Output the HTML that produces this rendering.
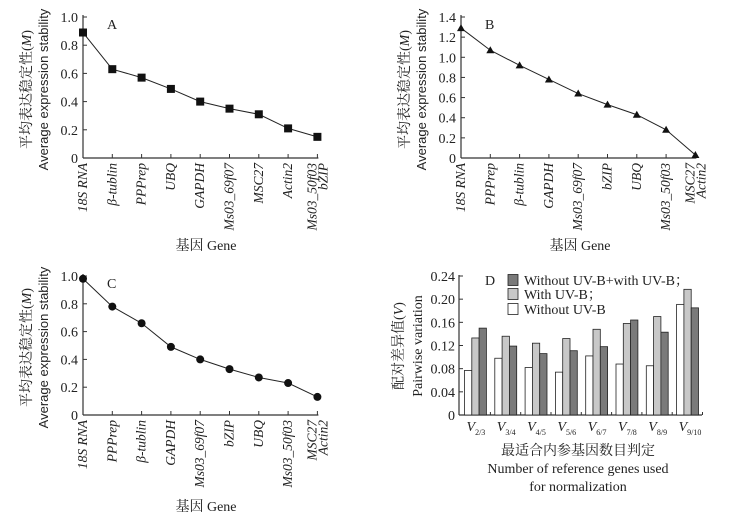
<!DOCTYPE html>
<html><head><meta charset="utf-8"><style>
body{margin:0;background:#fff;}
svg{display:block;font-family:"Liberation Serif","Noto Serif CJK SC",serif;}
</style></head><body>
<svg id="s" width="738" height="517" viewBox="0 0 738 517"></svg>
<script>
const NS="http://www.w3.org/2000/svg";
const svg=document.getElementById('s');
function mk(tag,attrs,parent,txt){const e=document.createElementNS(NS,tag);for(const k in attrs)e.setAttribute(k,attrs[k]);if(txt!==undefined)e.textContent=txt;(parent||svg).appendChild(e);return e;}

// ---- data ----
const genesA=["18S RNA","β-tublin","PPPrep","UBQ","GAPDH","Ms03_69f07","MSC27","Actin2","Ms03_50f03|bZIP"];
const valuesA=[0.89,0.63,0.57,0.49,0.40,0.35,0.31,0.21,0.15];
const ticksA=[0,0.2,0.4,0.6,0.8,1.0];
const genesB=["18S RNA","PPPrep","β-tublin","GAPDH","Ms03_69f07","bZIP","UBQ","Ms03_50f03","MSC27|Actin2"];
const valuesB=[1.29,1.07,0.92,0.78,0.64,0.53,0.43,0.28,0.03];
const ticksB=[0,0.2,0.4,0.6,0.8,1.0,1.2,1.4];
const genesC=["18S RNA","PPPrep","β-tublin","GAPDH","Ms03_69f07","bZIP","UBQ","Ms03_50f03","MSC27|Actin2"];
const valuesC=[0.98,0.78,0.66,0.49,0.40,0.33,0.27,0.23,0.13];
const ticksC=[0,0.2,0.4,0.6,0.8,1.0];
const catsD=["2/3","3/4","4/5","5/6","6/7","7/8","8/9","9/10"];
const withoutUV=[0.077,0.098,0.082,0.074,0.102,0.088,0.085,0.191];
const withUV=[0.133,0.136,0.124,0.132,0.148,0.158,0.170,0.217];
const combined=[0.150,0.119,0.106,0.111,0.118,0.164,0.143,0.185];
const ticksD=[0,0.04,0.08,0.12,0.16,0.20,0.24];
const ticksDLabels=["0","0.04","0.08","0.12","0.16","0.20","0.24"];

function yTitle(g,x1,x2,cy,zh,en){
  let t=mk('text',{x:0,y:0,transform:`translate(${x1},${cy}) rotate(-90)`,'text-anchor':'middle','font-size':14,fill:'#222',},g);
  t.innerHTML=zh;
  mk('text',{x:0,y:0,transform:`translate(${x2},${cy}) rotate(-90)`,'text-anchor':'middle','font-size':13,fill:'#222','font-family':'Liberation Sans, sans-serif',},g,en);
}

function lineChart(name,ax,y0,y1,ymax,genes,vals,ticks,marker,letter,titleY,titleX){
  const g=mk('g',{});
  const step=29.3;
  const xs=i=>ax+i*step;
  const ys=v=>y0-(v/ymax)*(y0-y1);
  const xend=xs(genes.length-1);
  mk('line',{x1:ax,y1:y0,x2:ax,y2:y1-2,stroke:'#333','stroke-width':1.2,},g);
  mk('line',{x1:ax,y1:y0,x2:xend+1,y2:y0,stroke:'#333','stroke-width':1.2,},g);
  ticks.forEach(t=>{
    const y=ys(t);
    const tk=mk('line',{x1:ax,y1:y,x2:ax+4,y2:y,stroke:'#333'},g);
    
    
    const lb=mk('text',{x:ax-5,y:y+5,'text-anchor':'end','font-size':14,fill:'#222'},g,t===0?'0':t.toFixed(1));
    
    
  });
  genes.forEach((gn,i)=>{
    const x=xs(i);
    if(i>0){const tk=mk('line',{x1:x,y1:y0,x2:x,y2:y0-4,stroke:'#333'},g);
      
      }
    const parts=gn.split('|');
    parts.forEach((p,j)=>{
      const lx=x+4+j*11-(parts.length>1?5:0);
      const lb=mk('text',{x:0,y:0,transform:`translate(${lx},${y0+5}) rotate(-90)`,'text-anchor':'end','font-size':13.5,'font-style':'italic',fill:'#222'},g,p);
      
      
    });
  });
  const pts=vals.map((v,i)=>xs(i)+','+ys(v)).join(' ');
  const pl=mk('polyline',{points:pts,fill:'none',stroke:'#222','stroke-width':1},g);
  
  
  vals.forEach((v,i)=>{
    const x=xs(i),y=ys(v);let m;
    if(marker==='sq') m=mk('rect',{x:x-4,y:y-4,width:8,height:8,fill:'#111'},g);
    else if(marker==='tri') m=mk('polygon',{points:`${x},${y-4} ${x-4},${y+3} ${x+4},${y+3}`,fill:'#111'},g);
    else m=mk('circle',{cx:x,cy:y,r:4,fill:'#111'},g);
    
    
  });
  mk('text',{x:ax+24,y:y1+12,'font-size':14,fill:'#222',},g,letter);
  yTitle(g,ax-52,ax-35,(y0+y1)/2+2,'平均表达稳定性(<tspan font-style="italic">M</tspan>)','Average expression stability');
  mk('text',{x:titleX,y:titleY,'text-anchor':'middle','font-size':14,fill:'#222',},g,'基因 Gene');
}

lineChart('chart-a',83,158,17,1.0,genesA,valuesA,ticksA,'sq','A',250,206);
lineChart('chart-b',461,158,17,1.4,genesB,valuesB,ticksB,'tri','B',250,580);
lineChart('chart-c',83,415,276,1.0,genesC,valuesC,ticksC,'circ','C',511,206);

// ---- chart D ----
(function(){
  const g=mk('g',{});
  const ax=459,y0=415,y1=276,ymax=0.24;
  const ys=v=>y0-(v/ymax)*(y0-y1);
  const gs=30.3,bw=7.3,gx0=464.5;
  const xend=ax+243;
  mk('line',{x1:ax,y1:y0,x2:ax,y2:y1-1,stroke:'#333','stroke-width':1.2,},g);
  mk('line',{x1:ax,y1:y0,x2:xend,y2:y0,stroke:'#333','stroke-width':1.2,},g);
  ticksD.forEach((t,i)=>{
    const y=ys(t);
    const tk=mk('line',{x1:ax,y1:y,x2:ax+4,y2:y,stroke:'#333'},g);
    
    
    const lb=mk('text',{x:ax-4,y:y+5,'text-anchor':'end','font-size':14,fill:'#222'},g,ticksDLabels[i]);
    
    
  });
  const series=[[withoutUV,'#fff','bar-without-uvb'],[withUV,'#c8c8c8','bar-with-uvb'],[combined,'#7a7a7a','bar-combined']];
  catsD.forEach((c,i)=>{
    const gx=gx0+i*gs;
    series.forEach((s,j)=>{
      const v=s[0][i];
      const r=mk('rect',{x:gx+j*bw,y:ys(v),width:bw,height:y0-ys(v),fill:s[1],stroke:'#222','stroke-width':0.8},g);
      
      
    });
    const tk=mk('line',{x1:gx+3*bw+4,y1:y0,x2:gx+3*bw+4,y2:y0-3,stroke:'#333'},g);
    
    
    const lb=mk('text',{x:gx+2,y:y0+16,'font-size':14,'font-style':'italic',fill:'#222'},g);
    
    
    lb.innerHTML=`V<tspan font-size="8" font-style="normal" dy="4">${c}</tspan>`;
  });
  mk('text',{x:485,y:285,'font-size':14,fill:'#222',},g,'D');
  const leg=[['#7a7a7a','Without UV-B+with UV-B；',280],['#c8c8c8','With UV-B；',294],['#fff','Without UV-B',309]];
  leg.forEach(l=>{
    const r=mk('rect',{x:508,y:l[2]-5.5,width:10,height:11,fill:l[0],stroke:'#222','stroke-width':0.8},g);
    
    
    const t=mk('text',{x:524,y:l[2]+5,'font-size':14,fill:'#222'},g,l[1]);
    
    
  });
  const t1=mk('text',{x:0,y:0,transform:'translate(403,346) rotate(-90)','text-anchor':'middle','font-size':14,fill:'#222',},g);
  t1.innerHTML='配对差异值(<tspan font-style="italic">V</tspan>)';
  mk('text',{x:0,y:0,transform:'translate(422,346) rotate(-90)','text-anchor':'middle','font-size':14,fill:'#222',},g,'Pairwise variation');
  mk('text',{x:578,y:455,'text-anchor':'middle','font-size':14,fill:'#222',},g,'最适合内参基因数目判定');
  mk('text',{x:578,y:473,'text-anchor':'middle','font-size':14,fill:'#222',},g,'Number of reference genes used');
  mk('text',{x:578,y:491,'text-anchor':'middle','font-size':14,fill:'#222',},g,'for normalization');
})();
</script>
</body></html>
